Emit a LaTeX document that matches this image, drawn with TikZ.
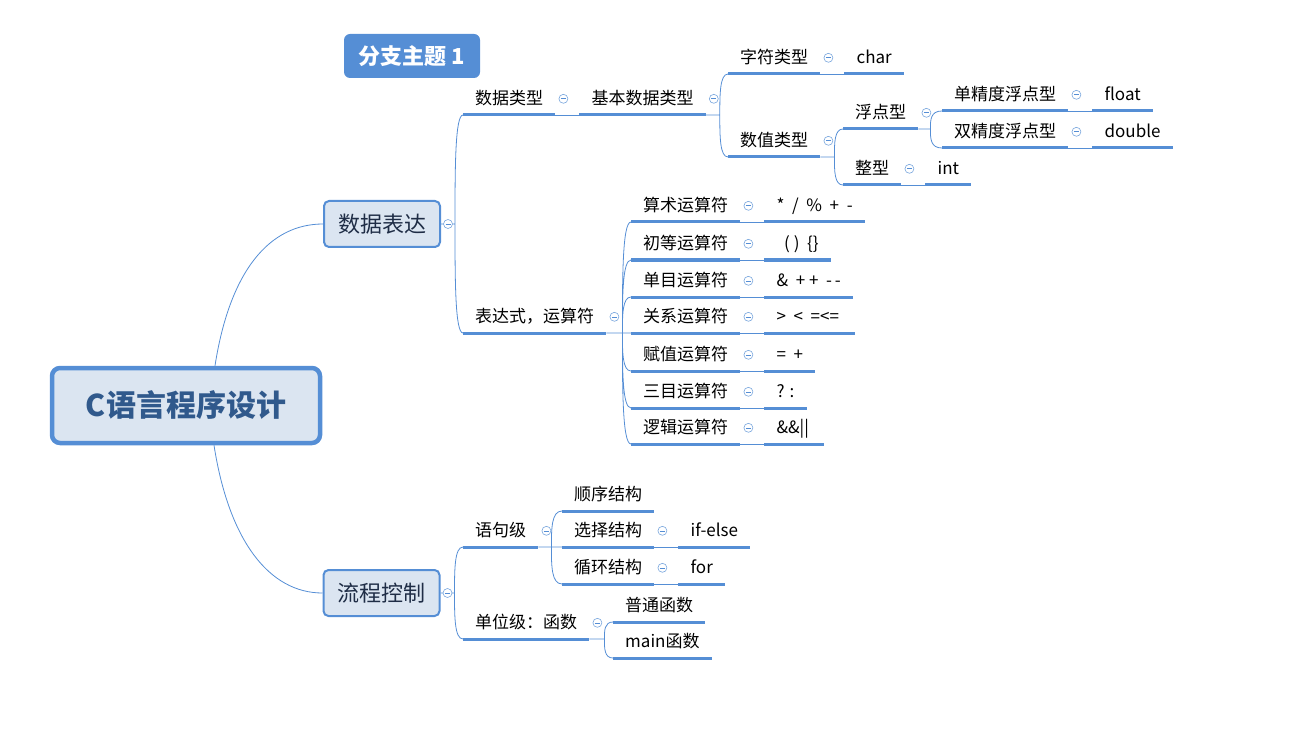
\documentclass[tikz,border=0pt]{standalone}
\usepackage{fontspec}
\setmainfont{Noto Sans CJK SC}
\usepackage{tikz}
\usetikzlibrary{positioning, backgrounds, calc}

\definecolor{linec}{HTML}{558ED5}
\definecolor{boxfill}{HTML}{DBE5F1}
\definecolor{roottext}{HTML}{30598C}
\definecolor{subtext}{HTML}{1F2D46}

\begin{document}
\begin{tikzpicture}[
  x=1pt, y=-1pt,
  rootbox/.style = {
    rectangle, draw=linec, fill=boxfill, line width=4.5pt,
    rounded corners=8pt, minimum width=268pt, minimum height=75pt,
    text=roottext, font=\fontsize{30}{33}\selectfont\bfseries},
  mainbox/.style = {
    rectangle, draw=linec, fill=boxfill, line width=2pt,
    rounded corners=5pt, minimum width=116pt, minimum height=46pt,
    text=subtext, font=\fontsize{22}{26}\selectfont},
  floatbox/.style = {
    rectangle, fill=linec, rounded corners=6pt,
    minimum width=136pt, minimum height=44pt,
    text=white, font=\fontsize{22}{25}\selectfont\bfseries},
  topic/.style = {
    anchor=south west, inner xsep=12pt, inner ysep=6pt,
    text height=14pt, text depth=4pt, font=\fontsize{17}{20}\selectfont,
    append after command={(\tikzlastnode.south west) edge[uline] (\tikzlastnode.south east)}},
  uline/.style = {draw=linec, line width=3pt},
  link/.style  = {draw=linec, line width=0.8pt},
  branch/.style = {to path={-- ++(#1,0) coordinate (brk)
    .. controls ($(brk)!0.5!(brk |- \tikztotarget)$) and (brk |- \tikztotarget)
    .. (\tikztotarget)}},
  branch/.default = 14,
  fold/.style = {
    circle, draw=linec!80, fill=white, line width=0.6pt,
    minimum size=9pt, inner sep=0pt,
    path picture={\draw[linec, line width=0.6pt]
      ([xshift=-2.5pt]path picture bounding box.center) --
      ([xshift=2.5pt]path picture bounding box.center);}}
]
\useasboundingbox (0,0) rectangle (1316,743);

%── Central topic and floating topic ─────────────────────────────
\node[rootbox] (root) at (186,405.5) {C语言程序设计};
\node[floatbox] (ftopic) at (412,56) {分支主题 1};

%── Main branches ────────────────────────────────────────────────
\node[mainbox] (sjbd) at (382,224) {数据表达};
\node[mainbox] (lckz) at (381.5,593) {流程控制};

%── Data types ───────────────────────────────────────────────────
\node[topic] (sjlx) at (463,115) {数据类型};
\node[topic, right=24pt of sjlx.south east, anchor=south west] (jbsjlx) {基本数据类型};
\node[topic] (zflx) at (728,74) {字符类型};
\node[topic, right=24pt of zflx.south east, anchor=south west] (char) {char};
\node[topic] (szlx) at (728,157) {数值类型};
\node[topic] (fdx) at (843,129) {浮点型};
\node[topic] (dan) at (942,111) {单精度浮点型};
\node[topic, right=24pt of dan.south east, anchor=south west] (float) {float};
\node[topic] (shuang) at (942,148) {双精度浮点型};
\node[topic, right=24pt of shuang.south east, anchor=south west] (double) {double};
\node[topic] (zx) at (843,185) {整型};
\node[topic, right=24pt of zx.south east, anchor=south west] (int) {int};

%── Expressions and operators ────────────────────────────────────
\node[topic] (bds) at (463,333) {表达式，运算符};
\node[topic] (ss) at (631,222) {算术运算符};
\node[topic, right=24pt of ss.south east, anchor=south west] (ss-v) {*~~/~~\%~~+~~-};
\node[topic] (cd) at (631,260) {初等运算符};
\node[topic, right=24pt of cd.south east, anchor=south west] (cd-v) {~~(~)~~\{\}~};
\node[topic] (dm) at (631,297) {单目运算符};
\node[topic, right=24pt of dm.south east, anchor=south west] (dm-v) {\&~~+~+~~-\,-~};
\node[topic] (gx) at (631,333) {关系运算符};
\node[topic, right=24pt of gx.south east, anchor=south west] (gx-v) {>~~<~~=<=~~};
\node[topic] (fz) at (631,371) {赋值运算符};
\node[topic, right=24pt of fz.south east, anchor=south west] (fz-v) {=~~+~};
\node[topic] (sm) at (631,408) {三目运算符};
\node[topic, right=24pt of sm.south east, anchor=south west] (sm-v) {? :};
\node[topic] (lj) at (631,444) {逻辑运算符};
\node[topic, right=24pt of lj.south east, anchor=south west] (lj-v) {\&\&||\,};

%── Flow control ─────────────────────────────────────────────────
\node[topic] (yjj) at (463,547) {语句级};
\node[topic] (sxjg) at (562,511) {顺序结构};
\node[topic] (xzjg) at (562,547) {选择结构};
\node[topic, right=24pt of xzjg.south east, anchor=south west] (ifelse) {if-else};
\node[topic] (xhjg) at (562,584) {循环结构};
\node[topic, right=24pt of xhjg.south east, anchor=south west] (for) {for};
\node[topic] (dwj) at (463,639) {单位级：函数};
\node[topic] (ptfs) at (613,622) {普通函数};
\node[topic] (mainfs) at (613,658) {main函数};

%── Connectors ───────────────────────────────────────────────────
\begin{scope}[on background layer]
  \draw[link] ([xshift=29pt]root.north)
    .. controls ([xshift=44pt,yshift=96pt]root.north) and ([xshift=-53pt]sjbd.west) .. (sjbd.west);
  \draw[link] ([xshift=28pt]root.south)
    .. controls ([xshift=43pt,yshift=-96pt]root.south) and ([xshift=-53pt]lckz.west) .. (lckz.west);

  \draw[link] (sjbd.east) to[branch] (sjlx.south west) (sjbd.east) to[branch] (bds.south west);
  \draw[link] (sjlx.south east) -- (jbsjlx.south west);
  \draw[link] (jbsjlx.south east) to[branch] (zflx.south west)
              (jbsjlx.south east) to[branch] (szlx.south west);
  \draw[link] (zflx.south east) -- (char.south west);
  \draw[link] (szlx.south east) to[branch] (fdx.south west)
              (szlx.south east) to[branch] (zx.south west);
  \draw[link] (fdx.south east) to[branch=12] (dan.south west)
              (fdx.south east) to[branch=12] (shuang.south west);
  \draw[link] (dan.south east) -- (float.south west);
  \draw[link] (shuang.south east) -- (double.south west);
  \draw[link] (zx.south east) -- (int.south west);

  \draw[link] (bds.south east) to[branch=16] (ss.south west)
              (bds.south east) to[branch=16] (cd.south west)
              (bds.south east) to[branch=16] (dm.south west)
              (bds.south east) to[branch=16] (gx.south west)
              (bds.south east) to[branch=16] (fz.south west)
              (bds.south east) to[branch=16] (sm.south west)
              (bds.south east) to[branch=16] (lj.south west);
  \draw[link] (ss.south east) -- (ss-v.south west);
  \draw[link] (cd.south east) -- (cd-v.south west);
  \draw[link] (dm.south east) -- (dm-v.south west);
  \draw[link] (gx.south east) -- (gx-v.south west);
  \draw[link] (fz.south east) -- (fz-v.south west);
  \draw[link] (sm.south east) -- (sm-v.south west);
  \draw[link] (lj.south east) -- (lj-v.south west);

  \draw[link] (lckz.east) to[branch] (yjj.south west) (lckz.east) to[branch] (dwj.south west);
  \draw[link] (yjj.south east) to[branch=13] (sxjg.south west)
              (yjj.south east) to[branch=13] (xzjg.south west)
              (yjj.south east) to[branch=13] (xhjg.south west);
  \draw[link] (xzjg.south east) -- (ifelse.south west);
  \draw[link] (xhjg.south east) -- (for.south west);
  \draw[link] (dwj.south east) to[branch=15] (ptfs.south west)
              (dwj.south east) to[branch=15] (mainfs.south west);
\end{scope}

%── Fold markers ─────────────────────────────────────────────────
\node[fold] (f-sjbd) at ([xshift=7pt]sjbd.east) {};
\node[fold] (f-lckz) at ([xshift=7pt]lckz.east) {};
\node[fold] (f-sjlx) at ([xshift=8pt,yshift=1pt]sjlx.east) {};
\node[fold] (f-jbsjlx) at ([xshift=8pt,yshift=1pt]jbsjlx.east) {};
\node[fold] (f-zflx) at ([xshift=8pt,yshift=1pt]zflx.east) {};
\node[fold] (f-szlx) at ([xshift=8pt,yshift=1pt]szlx.east) {};
\node[fold] (f-fdx) at ([xshift=8pt,yshift=1pt]fdx.east) {};
\node[fold] (f-dan) at ([xshift=8pt,yshift=1pt]dan.east) {};
\node[fold] (f-shuang) at ([xshift=8pt,yshift=1pt]shuang.east) {};
\node[fold] (f-zx) at ([xshift=8pt,yshift=1pt]zx.east) {};
\node[fold] (f-bds) at ([xshift=8pt,yshift=1pt]bds.east) {};
\node[fold] (f-ss) at ([xshift=8pt,yshift=1pt]ss.east) {};
\node[fold] (f-cd) at ([xshift=8pt,yshift=1pt]cd.east) {};
\node[fold] (f-dm) at ([xshift=8pt,yshift=1pt]dm.east) {};
\node[fold] (f-gx) at ([xshift=8pt,yshift=1pt]gx.east) {};
\node[fold] (f-fz) at ([xshift=8pt,yshift=1pt]fz.east) {};
\node[fold] (f-sm) at ([xshift=8pt,yshift=1pt]sm.east) {};
\node[fold] (f-lj) at ([xshift=8pt,yshift=1pt]lj.east) {};
\node[fold] (f-yjj) at ([xshift=8pt,yshift=1pt]yjj.east) {};
\node[fold] (f-xzjg) at ([xshift=8pt,yshift=1pt]xzjg.east) {};
\node[fold] (f-xhjg) at ([xshift=8pt,yshift=1pt]xhjg.east) {};
\node[fold] (f-dwj) at ([xshift=8pt,yshift=1pt]dwj.east) {};

\end{tikzpicture}
\end{document}
